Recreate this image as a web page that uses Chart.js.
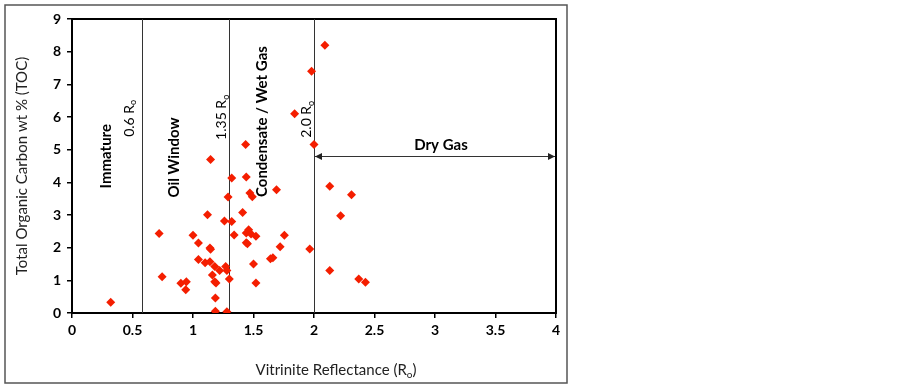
<!DOCTYPE html>
<html lang="en">
<head>
  <meta charset="UTF-8">
  <title>TOC vs Vitrinite Reflectance</title>
  <script src="https://cdn.jsdelivr.net/npm/chart.js@4.4.3/dist/chart.umd.min.js"></script>
  <style>
    body { margin: 0; background: #fff; }
    #wrap { width: 903px; height: 387px; }
  </style>
</head>
<body>
  <div id="wrap"><canvas id="tocChart" width="903" height="387"></canvas></div>
  <script>
    // samples
    const reflectance = [0.32, 0.72, 0.745, 0.90, 0.945, 0.94, 1.00, 1.045, 1.045, 1.12, 1.14, 1.145, 1.10, 1.14, 1.18,
      1.16, 1.18, 1.19, 1.185, 1.185, 1.22, 1.26, 1.27, 1.28, 1.28, 1.29, 1.30, 1.32, 1.34, 1.41,
      1.44, 1.45, 1.44, 1.46, 1.48, 1.52, 1.50, 1.52, 1.64, 1.66, 1.72, 1.755, 1.145, 1.435, 1.32,
      1.44, 1.69, 1.47, 1.49, 2.09, 1.98, 1.84, 2.00, 2.13, 2.31, 2.22, 1.965, 2.13, 2.37, 2.425];
    const toc = [0.33, 2.43, 1.11, 0.91, 0.96, 0.71, 2.38, 2.14, 1.64, 3.01, 1.99, 1.95, 1.54, 1.57, 1.42,
      1.16, 0.96, 0.92, 0.46, 0.05, 1.30, 2.82, 1.42, 1.30, 0.04, 3.55, 1.04, 2.80, 2.39, 3.08,
      2.15, 2.12, 2.45, 2.55, 2.42, 2.35, 1.50, 0.92, 1.66, 1.69, 2.03, 2.38, 4.70, 5.16, 4.13,
      4.16, 3.77, 3.67, 3.56, 8.20, 7.40, 6.10, 5.16, 3.88, 3.62, 2.98, 1.96, 1.30, 1.04, 0.94];

    // maturity boundaries as drawn
    const boundaryX = [0.575, 1.30, 2.0];

    // zone labels: text, subscript, bold, x, y (data units, rotated)
    const zoneText = ['Immature', '0.6 R', 'Oil Window', '1.35 R', 'Condensate / Wet Gas', '2.0 R'];
    const zoneSub = ['', 'o', '', 'o', '', 'o'];
    const zoneBold = [true, false, true, false, true, false];
    const zoneX = [0.28, 0.474, 0.847, 1.236, 1.575, 1.94];
    const zoneY = [4.8, 5.96, 4.76, 5.99, 5.86, 5.93];

    const dryGasRange = [2.0, 4.0];
    const dryGasY = 4.8;
    const dryGasLabel = 'Dry Gas';

    const FONT = 'Lato, "Open Sans", sans-serif';

    function subText(ctx, main, sub, x, y, size, weight, tail) {
      // centred text with a subscript and optional tail after it
      tail = tail || '';
      const small = Math.round(size * 0.65);
      ctx.font = weight + ' ' + size + 'px ' + FONT;
      const w1 = ctx.measureText(main).width;
      const w3 = ctx.measureText(tail).width;
      ctx.font = weight + ' ' + small + 'px ' + FONT;
      const w2 = sub ? ctx.measureText(sub).width : 0;
      const left = x - (w1 + w2 + w3) / 2;
      ctx.textAlign = 'left';
      ctx.textBaseline = 'middle';
      ctx.font = weight + ' ' + size + 'px ' + FONT;
      ctx.fillText(main, left, y);
      if (tail) ctx.fillText(tail, left + w1 + w2, y);
      if (sub) {
        ctx.font = weight + ' ' + small + 'px ' + FONT;
        ctx.fillText(sub, left + w1, y + size * 0.3);
      }
    }

    const overlay = {
      id: 'overlay',
      beforeDatasetsDraw(chart) {
        const { ctx, chartArea: a, scales: { x, y } } = chart;
        ctx.save();
        // outer frame
        ctx.strokeStyle = '#555';
        ctx.lineWidth = 1.5;
        ctx.strokeRect(5, 5, 562, 378);
        // plot box
        ctx.strokeStyle = '#000';
        ctx.lineWidth = 2;
        ctx.strokeRect(a.left, a.top, a.right - a.left, a.bottom - a.top);
        // boundaries
        ctx.strokeStyle = '#333';
        ctx.lineWidth = 1;
        boundaryX.forEach(v => {
          const px = Math.round(x.getPixelForValue(v)) + 0.5;
          ctx.beginPath();
          ctx.moveTo(px, a.top);
          ctx.lineTo(px, a.bottom);
          ctx.stroke();
        });
        // dry gas arrow
        const x1 = x.getPixelForValue(dryGasRange[0]) + 1;
        const x2 = x.getPixelForValue(dryGasRange[1]) - 1;
        const py = Math.round(y.getPixelForValue(dryGasY)) + 0.5;
        ctx.beginPath();
        ctx.moveTo(x1, py);
        ctx.lineTo(x2, py);
        ctx.stroke();
        ctx.fillStyle = '#222';
        ctx.beginPath();
        ctx.moveTo(x1, py); ctx.lineTo(x1 + 7, py - 3.5); ctx.lineTo(x1 + 7, py + 3.5); ctx.closePath(); ctx.fill();
        ctx.beginPath();
        ctx.moveTo(x2, py); ctx.lineTo(x2 - 7, py - 3.5); ctx.lineTo(x2 - 7, py + 3.5); ctx.closePath(); ctx.fill();
        ctx.fillStyle = '#000';
        subText(ctx, dryGasLabel, '', x.getPixelForValue((dryGasRange[0] + dryGasRange[1]) / 2) + 6,
          y.getPixelForValue(5.13), 15, 'bold');
        // rotated zone labels
        zoneText.forEach((t, i) => {
          ctx.save();
          ctx.translate(x.getPixelForValue(zoneX[i]), y.getPixelForValue(zoneY[i]));
          ctx.rotate(-Math.PI / 2);
          subText(ctx, t, zoneSub[i], 0, 0, zoneBold[i] ? 15 : 14, zoneBold[i] ? 'bold' : 'normal');
          ctx.restore();
        });
        // axis titles
        ctx.fillStyle = '#222';
        subText(ctx, 'Vitrinite Reflectance (R', 'o', 336, 370, 15, 'normal', ')');
        ctx.save();
        ctx.translate(22, (a.top + a.bottom) / 2);
        ctx.rotate(-Math.PI / 2);
        subText(ctx, 'Total Organic Carbon wt % (TOC)', '', 0, 0, 15, 'normal');
        ctx.restore();
        ctx.restore();
      }
    };

    new Chart(document.getElementById('tocChart'), {
      type: 'scatter',
      data: {
        datasets: [{
          data: reflectance.map((v, i) => ({ x: v, y: toc[i] })),
          pointStyle: 'rectRot',
          pointRadius: 4.5,
          pointHoverRadius: 4.5,
          backgroundColor: '#f41e00',
          borderColor: '#f41e00',
          borderWidth: 0
        }]
      },
      options: {
        responsive: false,
        animation: false,
        layout: { padding: { left: 0, top: 19, right: 347, bottom: 0 } },
        plugins: { legend: { display: false }, tooltip: { enabled: false } },
        scales: {
          x: {
            type: 'linear', min: 0, max: 4,
            afterFit: s => { s.height = 74; },
            ticks: { stepSize: 0.5, color: '#000', padding: 4, callback: v => String(+v),
              font: { family: FONT, size: 14, weight: 'bold' } },
            grid: { drawOnChartArea: false, drawTicks: true, tickLength: 5, color: '#000', lineWidth: 1.5 },
            border: { color: '#000', width: 2 }
          },
          y: {
            type: 'linear', min: 0, max: 9,
            afterFit: s => { s.width = 72; },
            ticks: { stepSize: 1, color: '#000', padding: 6, callback: v => String(+v),
              font: { family: FONT, size: 14, weight: 'bold' } },
            grid: { drawOnChartArea: false, drawTicks: true, tickLength: 5, color: '#000', lineWidth: 1.5 },
            border: { color: '#000', width: 2 }
          }
        }
      },
      plugins: [overlay]
    });
  </script>
</body>
</html>
